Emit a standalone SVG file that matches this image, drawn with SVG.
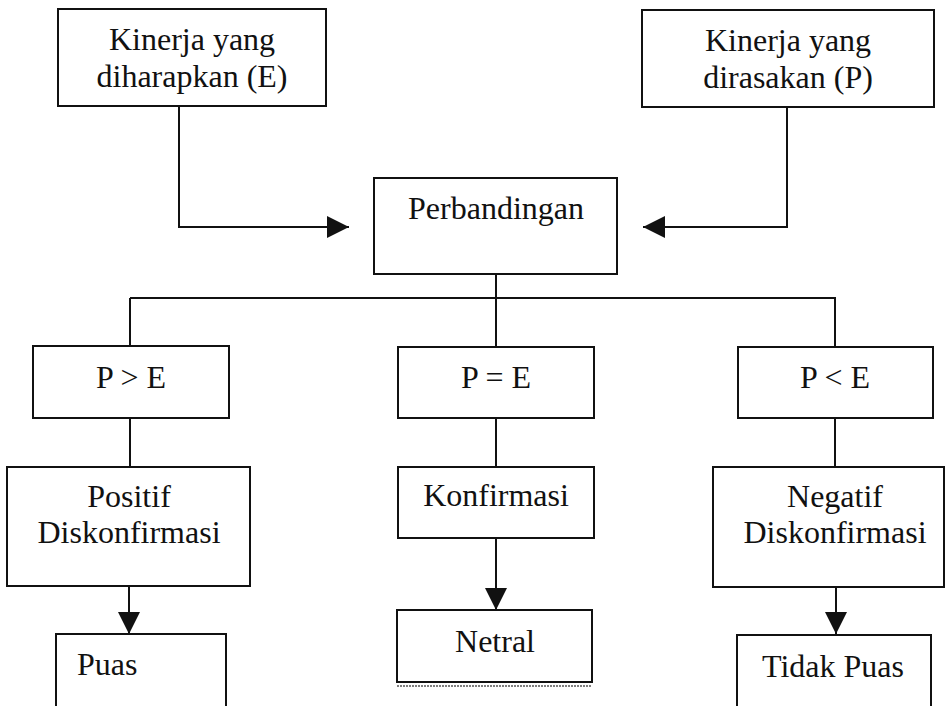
<svg xmlns="http://www.w3.org/2000/svg" width="946" height="706" viewBox="0 0 946 706">
<style>
.box{fill:#fff;stroke:#111;stroke-width:2}
.t{font-family:"Liberation Serif","Times New Roman",serif;font-size:32px;fill:#111;text-anchor:middle}
.ts{font-family:"Liberation Serif","Times New Roman",serif;font-size:32px;fill:#111}
.c{fill:none;stroke:#111;stroke-width:2}
</style>
<defs>
<marker id="ah" markerUnits="userSpaceOnUse" markerWidth="22" markerHeight="22" viewBox="0 0 20 20" refX="20" refY="10" orient="auto">
<path d="M0,0 L20,10 L0,20 Z" fill="#111"/>
</marker>
</defs>
<rect width="946" height="706" fill="#fff"/>
<g id="connectors">
<path class="c" d="M179,106 V227 H349" marker-end="url(#ah)"/>
<path class="c" d="M787,107 V227 H643" marker-end="url(#ah)"/>
<path class="c" d="M496,274 V298"/>
<path class="c" d="M130,298 H836"/>
<path class="c" d="M130,298 V346"/>
<path class="c" d="M496,298 V347"/>
<path class="c" d="M835,298 V347"/>
<path class="c" d="M130,418 V467"/>
<path class="c" d="M496,418 V467"/>
<path class="c" d="M835,418 V467"/>
<path class="c" d="M129,586 V634" marker-end="url(#ah)"/>
<path class="c" d="M496,538 V610" marker-end="url(#ah)"/>
<path class="c" d="M836,587 V634" marker-end="url(#ah)"/>
</g>
<g id="node-E">
<rect class="box" x="58" y="9" width="268" height="97"/>
<text class="t" x="192" y="50">Kinerja yang</text>
<text class="t" x="192" y="87">diharapkan (E)</text>
</g>
<g id="node-P">
<rect class="box" x="642" y="10" width="292" height="97"/>
<text class="t" x="788" y="51">Kinerja yang</text>
<text class="t" x="788" y="88">dirasakan (P)</text>
</g>
<g id="node-perbandingan">
<rect class="box" x="374" y="178" width="243" height="96"/>
<text class="t" x="496" y="219">Perbandingan</text>
</g>
<g id="node-pge">
<rect class="box" x="33" y="346" width="196" height="72"/>
<text class="t" x="131" y="388">P &gt; E</text>
</g>
<g id="node-peq">
<rect class="box" x="398" y="347" width="196" height="71"/>
<text class="t" x="496" y="388">P = E</text>
</g>
<g id="node-ple">
<rect class="box" x="738" y="347" width="195" height="71"/>
<text class="t" x="835" y="388">P &lt; E</text>
</g>
<g id="node-positif">
<rect class="box" x="7" y="467" width="243" height="119"/>
<text class="t" x="129" y="507">Positif</text>
<text class="t" x="129" y="543">Diskonfirmasi</text>
</g>
<g id="node-konfirmasi">
<rect class="box" x="398" y="467" width="196" height="71"/>
<text class="t" x="496" y="506">Konfirmasi</text>
</g>
<g id="node-negatif">
<rect class="box" x="713" y="467" width="231" height="120"/>
<text class="t" x="835" y="507">Negatif</text>
<text class="t" x="835" y="543">Diskonfirmasi</text>
</g>
<g id="node-puas">
<rect class="box" x="56" y="634" width="170" height="90"/>
<text class="ts" x="77" y="675">Puas</text>
</g>
<g id="node-netral">
<rect class="box" x="397" y="610" width="195" height="72"/>
<line x1="397" y1="686" x2="592" y2="686" stroke="#555" stroke-width="1.5" stroke-dasharray="2 1"/>
<text class="t" x="495" y="652">Netral</text>
</g>
<g id="node-tidakpuas">
<rect class="box" x="737" y="635" width="194" height="90"/>
<text class="t" x="833" y="677">Tidak Puas</text>
</g>
</svg>
